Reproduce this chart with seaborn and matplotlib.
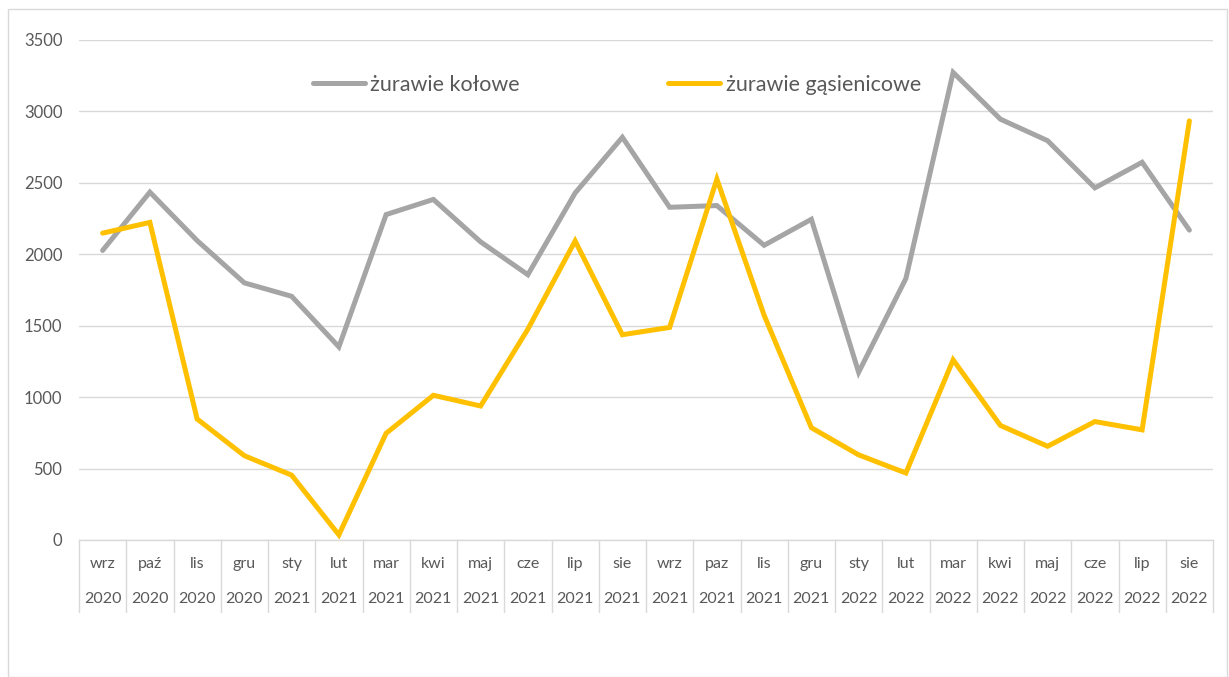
import numpy as np
import pandas as pd
import matplotlib
matplotlib.use("Agg")
import matplotlib.pyplot as plt
import matplotlib.transforms as mtransforms
from matplotlib.lines import Line2D
import seaborn as sns

months = ["wrz", "paź", "lis", "gru", "sty", "lut", "mar", "kwi", "maj", "cze", "lip", "sie",
          "wrz", "paz", "lis", "gru", "sty", "lut", "mar", "kwi", "maj", "cze", "lip", "sie"]
years = ["2020", "2020", "2020", "2020", "2021", "2021", "2021", "2021", "2021", "2021", "2021", "2021",
         "2021", "2021", "2021", "2021", "2022", "2022", "2022", "2022", "2022", "2022", "2022", "2022"]
kolowe = [2027, 2435, 2096, 1800, 1706, 1352, 2278, 2384, 2087, 1857, 2429, 2819,
          2329, 2341, 2063, 2245, 1174, 1830, 3273, 2946, 2795, 2465, 2644, 2169]
gasienicowe = [2148, 2223, 847, 590, 454, 36, 747, 1013, 938, 1476, 2093, 1437,
               1488, 2526, 1573, 786, 596, 469, 1261, 802, 656, 829, 771, 2934]
series_names = ["żurawie kołowe", "żurawie gąsienicowe"]
colors = ["#A5A5A5", "#FFC000"]

sns.set_theme(style="white")
plt.rcParams["font.family"] = ["Lato", "DejaVu Sans"]

idx = np.arange(len(months))
df = pd.DataFrame({
    "x": np.concatenate([idx, idx]),
    "value": kolowe + gasienicowe,
    "series": [series_names[0]] * len(idx) + [series_names[1]] * len(idx),
})

W, H = 1229, 677
fig = plt.figure(figsize=(W / 100, H / 100), dpi=100)
ax = fig.add_axes([79 / W, 1 - 540 / H, (1213 - 79) / W, 500 / H])

sns.lineplot(data=df, x="x", y="value", hue="series", palette=colors,
             linewidth=3.6, ax=ax, legend=False, sort=False)
for ln in ax.get_lines():
    ln.set_solid_capstyle("round")
    ln.set_solid_joinstyle("miter")

ax.set_xlim(-0.5, len(months) - 0.5)
ax.set_ylim(0, 3500)
ax.set_yticks(np.arange(0, 3501, 500))
ax.set_yticklabels([str(v) for v in range(0, 3501, 500)], fontsize=12, color="#595959")
ax.tick_params(axis="y", length=0, pad=12)
ax.set_xticks([])
ax.set_xlabel("")
ax.set_ylabel("")
ax.yaxis.grid(True, color="#D9D9D9", linewidth=1.0)
ax.set_axisbelow(True)
for s in ["top", "right", "left"]:
    ax.spines[s].set_visible(False)
ax.spines["bottom"].set_color("#D9D9D9")
ax.spines["bottom"].set_linewidth(1.0)

trans = mtransforms.blended_transform_factory(ax.transData, ax.transAxes)
for b in np.arange(-0.5, len(months), 1.0):
    ax.plot([b, b], [0, -0.144], transform=trans, color="#D9D9D9", linewidth=1.0, clip_on=False)
for i, (m, y) in enumerate(zip(months, years)):
    ax.text(i, -0.048, m, transform=trans, ha="center", va="center", fontsize=11.5, color="#595959")
    ax.text(i, -0.118, y, transform=trans, ha="center", va="center", fontsize=11.5, color="#595959")

handles = [Line2D([0], [0], color=c, linewidth=3.6, solid_capstyle="round") for c in colors]
fig.legend(handles, series_names, loc="center", bbox_to_anchor=(617 / W, 1 - 85 / H),
           ncol=2, frameon=False, fontsize=15.5, handlelength=2.4, handletextpad=0.25,
           columnspacing=6.9, labelcolor="#595959")

border = plt.Rectangle((8 / W, 0), (W - 10) / W, 1 - 9 / H, transform=fig.transFigure,
                       fill=False, edgecolor="#D9D9D9", linewidth=1.0)
fig.patches.append(border)

fig.savefig("out.png", dpi=100, facecolor="white")
